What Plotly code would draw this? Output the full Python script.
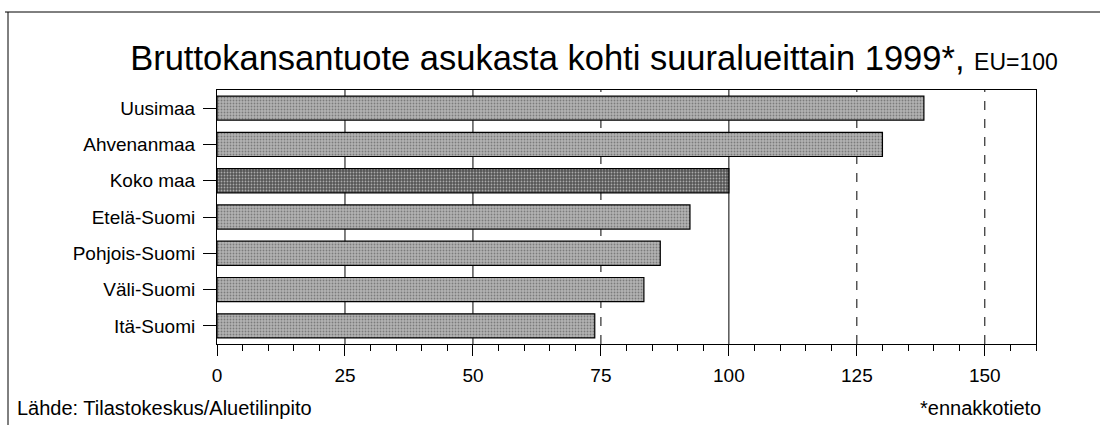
import plotly.graph_objects as go

categories = ["Uusimaa", "Ahvenanmaa", "Koko maa", "Etelä-Suomi", "Pohjois-Suomi", "Väli-Suomi", "Itä-Suomi"]
values = [138.1, 130.0, 100.0, 92.4, 86.6, 83.4, 73.8]
bar_colors = ["#b3b3b3", "#b3b3b3", "#555555", "#b3b3b3", "#b3b3b3", "#b3b3b3", "#b3b3b3"]
x_ticks = [0, 25, 50, 75, 100, 125, 150]
solid_grid = [25, 50, 100]
dashed_grid = [75, 125, 150]

FONT = "Liberation Sans, Arial, sans-serif"
W, H = 1105, 425
L, R, T, B = 217, 69, 90, 81
pw, ph = W - L - R, H - T - B

def px(xp):
    return (xp - L) / pw

def py(yp):
    return 1 - (yp - T) / ph

fig = go.Figure()
fig.add_trace(go.Bar(
    y=categories, x=values, orientation="h",
    marker=dict(color=bar_colors, line=dict(color="black", width=1.2),
                pattern=dict(shape=".", fgcolor="#7a7a7a", size=3, solidity=0.3)),
    width=0.665,
))

shapes = []
for g in solid_grid:
    shapes.append(dict(type="line", xref="x", yref="paper", x0=g, x1=g, y0=0, y1=1,
                       line=dict(color="black", width=1), layer="below"))
for g in dashed_grid:
    shapes.append(dict(type="line", xref="x", yref="paper", x0=g, x1=g, y0=0, y1=1,
                       line=dict(color="black", width=1, dash="dash"), layer="below"))
# outer frame
shapes.append(dict(type="line", xref="paper", yref="paper", x0=px(5), x1=px(1100), y0=py(12), y1=py(12),
                   line=dict(color="black", width=1)))
shapes.append(dict(type="line", xref="paper", yref="paper", x0=px(8), x1=px(8), y0=py(12), y1=py(425),
                   line=dict(color="black", width=1)))

fig.update_layout(
    width=W, height=H,
    margin=dict(l=L, r=R, t=T, b=B, pad=0),
    paper_bgcolor="white", plot_bgcolor="white",
    showlegend=False,
    font=dict(family=FONT, size=19, color="black"),
    title=dict(text="Bruttokansantuote asukasta kohti suuralueittain 1999*, <span style='font-size:23px'>EU=100</span>",
               x=594 / W, xanchor="center", y=1 - 58 / H, yanchor="middle",
               font=dict(family=FONT, size=34.5, color="black")),
    xaxis=dict(range=[0, 160], tickvals=x_ticks, ticks="outside", ticklen=11, tickwidth=1,
               tickcolor="black", showgrid=False, zeroline=False, showline=True, linecolor="black",
               linewidth=1, mirror=True, ticklabelstandoff=3,
               minor=dict(dtick=5, ticks="outside", ticklen=6, tickcolor="black", showgrid=False),
               tickfont=dict(size=19)),
    yaxis=dict(range=[6.5, -0.5], autorange=False, ticks="outside", ticklen=13, tickcolor="black",
               showline=True, linecolor="black", linewidth=1, mirror=True, showgrid=False,
               tickfont=dict(size=19), ticklabelstandoff=4),
    shapes=shapes,
    annotations=[
        dict(text="Lähde: Tilastokeskus/Aluetilinpito", xref="paper", yref="paper", x=px(15), y=py(408),
             xanchor="left", yanchor="middle", showarrow=False, font=dict(size=20)),
        dict(text="*ennakkotieto", xref="paper", yref="paper", x=px(1043), y=py(408),
             xanchor="right", yanchor="middle", showarrow=False, font=dict(size=20)),
    ],
)

fig.write_html("out.html", config={"displayModeBar": False},
               post_script="document.body.style.margin='0px';document.body.style.overflow='hidden';")
